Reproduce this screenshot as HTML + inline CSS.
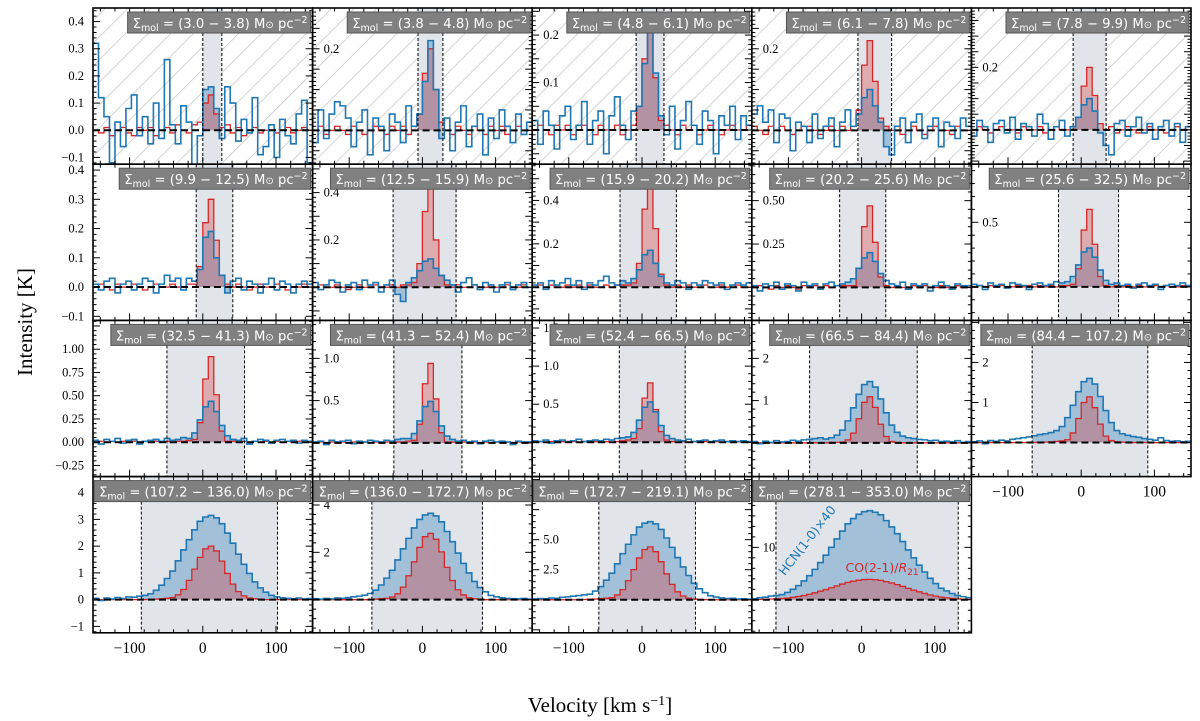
<!DOCTYPE html>
<html><head><meta charset="utf-8">
<style>
html,body{margin:0;padding:0;background:#fff;}
svg{display:block;}
</style></head>
<body>
<svg id="chart" width="1200" height="721" xmlns="http://www.w3.org/2000/svg">
<defs>
<pattern id="hatch" patternUnits="userSpaceOnUse" width="16" height="16" patternTransform="rotate(45)">
<line x1="0" y1="0" x2="0" y2="16" stroke="#c9c9c9" stroke-width="1.6"/>
</pattern>
</defs>
<text x="32" y="322" transform="rotate(-90 32 322)" text-anchor="middle" font-family="Liberation Serif, serif" font-size="21">Intensity [K]</text>
<text x="600" y="712" text-anchor="middle" font-family="Liberation Serif, serif" font-size="21">Velocity [km s<tspan baseline-shift="super" font-size="14">−1</tspan>]</text>
<g id="panels"></g>
</svg>
<script>
const titles=["(3.0 − 3.8)","(3.8 − 4.8)","(4.8 − 6.1)","(6.1 − 7.8)","(7.8 − 9.9)","(9.9 − 12.5)","(12.5 − 15.9)","(15.9 − 20.2)","(20.2 − 25.6)","(25.6 − 32.5)","(32.5 − 41.3)","(41.3 − 52.4)","(52.4 − 66.5)","(66.5 − 84.4)","(84.4 − 107.2)","(107.2 − 136.0)","(136.0 − 172.7)","(172.7 − 219.1)","(278.1 − 353.0)"];
const yMins=[-0.125,-0.083,-0.072,-0.083,-0.11,-0.114,-0.14,-0.153,-0.19,-0.26,-0.37,-0.4,-0.45,-0.8,-0.85,-1.24,-1.4,-2.75,-6.3];
const yMaxs=[0.45,0.3,0.257,0.3,0.39,0.42,0.52,0.567,0.71,0.95,1.31,1.45,1.6,2.9,3.05,4.6,5.2,10.25,23.5];
const yMajor=[0.1,0.05,0.05,0.05,0.05,0.1,0.1,0.1,0.25,0.5,0.25,0.5,0.5,1,1,1,2,2.5,10];
const yLabels=[[-0.1,0,0.1,0.2,0.3,0.4],[0.2],[0.1,0.2],[0.2],[0.2],[-0.1,0,0.1,0.2,0.3,0.4],[0.2,0.4],[0.2,0.4],[0.25,0.5],[0.5],[-0.25,0,0.25,0.5,0.75,1],[0.5,1],[0.5,1,1.5],[1,2],[1,2],[-1,0,1,2,3,4],[2,4],[2.5,5],[10]];
const yDecimals=[1,1,1,1,1,1,1,1,2,1,2,1,1,0,0,0,0,1,0];
const windowLo=[0,-6,-8,-5,-11,-9,-40,-30,-30,-31,-49,-39,-31,-71,-67,-84,-69,-59,-117];
const windowHi=[26,28,30,41,34,41,46,47,33,51,57,54,59,76,91,102,82,73,132];
const velocityEdges=[-150,150];
const binWidth=7.5;

const hcn1=[0.32,0.12,0.05,-0.12,0.03,-0.06,0.08,0.13,-0.02,0.05,-0.05,0.1,-0.03,0.26,0.02,-0.05,0.09,0.03,-0.13,-0.02,0.15,0.16,0.08,-0.03,0.16,0.1,-0.04,0.04,-0.01,0.12,-0.09,-0.06,0.02,-0.1,0.04,-0.02,-0.05,0.06,0.11,-0.12];
const co1=[0,-0.01,0.01,-0.02,0,0.01,-0.01,-0.02,0.01,0,0.01,-0.02,0,0.01,-0.01,0.02,0,-0.01,0.02,0.03,0.1,0.13,0.06,0.01,0.02,-0.01,0.01,-0.02,0,0.01,-0.01,0,0.02,-0.01,0,0.01,-0.01,0,0.01,0];
const hcn2=[-0.03,0.05,-0.02,0.04,0.07,0.06,0.03,-0.04,0.02,0.05,-0.06,0.03,0.01,-0.05,0.04,0.02,-0.03,0.06,0.01,0.04,0.12,0.22,0.1,-0.02,0.03,-0.05,0.02,0.06,-0.04,0.01,0.04,-0.06,0.03,-0.02,0.05,0.01,-0.03,0.04,-0.01,0.02];
const co2=[0,0.01,-0.01,0,0.01,0,-0.01,0.01,0,-0.01,0,0.01,0,-0.01,0.01,0,0.01,-0.01,0.01,0.04,0.14,0.2,0.1,0.02,0,-0.01,0.01,0,-0.01,0.01,0,-0.01,0.01,0,0.01,-0.01,0,0.01,0,0];
const hcn3=[0.02,-0.03,0.04,0.01,-0.04,0.03,0.05,-0.02,0.01,0.06,-0.03,0.02,0.04,-0.05,0.03,0.07,0.01,-0.02,0.04,0.05,0.14,0.21,0.12,0.03,-0.01,0.05,-0.04,0.02,0.06,0.01,-0.03,0.04,0.02,-0.05,0.03,0.01,0.05,-0.02,0.03,0.01];
const co3=[0,0.01,0,-0.01,0.01,0,0.01,-0.01,0,0.01,0,-0.01,0.01,0,0,0.01,-0.01,0,0.01,0.05,0.15,0.21,0.11,0.02,0.01,0,-0.01,0.01,0,0.01,-0.01,0,0.01,0,-0.01,0,0.01,0,0,0.01];
const hcn4=[0.04,0.06,0.02,0.05,-0.03,0.04,0.03,-0.05,0.02,0.01,-0.03,0.04,-0.02,0.01,0.03,-0.04,0.02,0.05,0.01,0.04,0.08,0.1,0.06,0.02,-0.04,-0.06,0.01,0.03,-0.03,0.02,0.04,-0.02,0.01,0.03,-0.04,0.02,0.01,-0.02,0.03,0.01];
const co4=[0.01,0,-0.01,0.01,0,0.01,0,-0.01,0,0.01,0.01,0,-0.01,0,0.01,0,0.01,0,0.01,0.05,0.16,0.22,0.12,0.03,0.01,0,0.01,-0.01,0,0.01,0,-0.01,0,0.01,0,0,-0.01,0.01,0,0];
const hcn5=[-0.02,0.03,0.01,-0.04,0.02,0.03,-0.01,0.04,-0.03,0.02,0.01,-0.02,0.05,0.02,-0.03,0.01,0.03,-0.02,0.01,0.04,0.08,0.1,0.06,-0.01,-0.05,-0.08,0.02,0.03,-0.02,0.01,0.04,-0.01,0.02,-0.03,0.01,0.03,-0.02,0.02,-0.04,0.01];
const co5=[0,0.01,0,-0.01,0,0.01,0,0,-0.01,0.01,0,0,0.01,-0.01,0,0.01,0,0,0.01,0.04,0.14,0.2,0.11,0.02,0,0.01,-0.01,0,0.01,0,-0.01,0,0.01,0,0,-0.01,0,0.01,0,0];
const hcn6=[0.01,-0.01,0.02,0.03,-0.02,0.01,0.02,-0.01,0.01,0.03,0.02,-0.02,0.01,0.04,0.02,0.03,-0.01,0.03,0.02,0.06,0.17,0.19,0.1,0.04,-0.02,0.02,0.03,-0.01,0.02,0.01,-0.02,0.01,0.03,-0.01,0.02,0.01,-0.02,0.01,0.02,0.01];
const co6=[0,0.01,0,-0.01,0.01,0,0,0.01,0,-0.01,0,0.01,0,0,0.01,0,0,0.01,0.01,0.07,0.22,0.3,0.16,0.04,0.01,0,0.01,0,-0.01,0,0.01,0,0,0.01,0,-0.01,0,0,0.01,0];
const hcn7=[0.02,-0.01,0.01,0.03,0.02,-0.02,0.01,0.02,-0.01,0.03,0.01,0.02,-0.02,0.01,0.03,-0.03,-0.06,0.02,0.04,0.07,0.11,0.12,0.08,0.05,0.03,0.01,-0.02,0.02,0.04,0.01,-0.01,0.02,0.01,-0.02,0.01,0.02,-0.01,0.01,0.02,0];
const co7=[0,0.01,0,0,0.01,0,-0.01,0,0.01,0,0,0.01,0,0,0.01,0,0.01,0.01,0.02,0.1,0.32,0.43,0.2,0.05,0.01,0,0.01,0,0,0.01,0,0,0.01,0,0,0.01,0,0,0.01,0];
const hcn8=[0.01,0.02,-0.01,0.03,0.01,0.02,0.04,0.01,0.03,-0.01,0.02,0.01,0.03,0.05,0.02,0.01,0.03,0.02,0.04,0.08,0.15,0.17,0.11,0.05,0.02,0.01,0.03,0.02,-0.01,0.02,0.01,0.03,0.02,0.01,0.02,-0.01,0.01,0.02,0.01,0.02];
const co8=[0,0.01,0,0.01,0,0,0.01,0,0.01,0,0.01,0,0,0.01,0,0.01,0.01,0.01,0.02,0.11,0.36,0.49,0.27,0.06,0.01,0,0.01,0,0.01,0,0,0.01,0,0,0.01,0,0,0.01,0,0];
const hcn9=[0.01,-0.02,0.02,0.01,0.03,-0.01,0.02,0.01,-0.02,0.03,0.01,0.02,-0.01,0.02,0.03,0.01,0.02,0.03,0.05,0.11,0.17,0.2,0.15,0.08,0.04,0.02,0.01,0.03,-0.01,0.02,0.01,0.02,-0.02,0.01,0.03,0.01,-0.01,0.02,0.01,0.01];
const co9=[0,0.01,0,-0.01,0.01,0,0.01,0,-0.01,0.01,0,0.01,0,0.01,0,0.01,0.01,0.01,0.01,0.11,0.35,0.47,0.26,0.06,0.01,0,0.01,0,-0.01,0.01,0,0.01,0,0,0.01,0,-0.01,0.01,0,0];
const hcn10=[0.02,0.01,-0.02,0.03,0.01,0.02,-0.01,0.03,0.02,0.01,-0.02,0.02,0.03,0.01,0.02,0.04,0.03,0.04,0.08,0.17,0.27,0.3,0.23,0.13,0.05,0.02,0.03,0.01,0.02,-0.01,0.02,0.03,0.01,0.02,-0.02,0.01,0.02,0.01,0.03,0.01];
const co10=[0,0.01,0,0.01,0,0.01,0,0,0.01,0,0.01,0,0.01,0,0.01,0,0.01,0.01,0.02,0.14,0.44,0.6,0.33,0.08,0.01,0,0.01,0,0.01,0,0.01,0,0,0.01,0,0.01,0,0,0.01,0];
const hcn11=[0.02,-0.02,0.03,0.01,0.04,-0.01,0.02,0.03,-0.02,0.01,0.02,0.03,0.01,0.04,0.02,0.03,0.05,0.04,0.1,0.24,0.38,0.44,0.33,0.18,0.07,0.03,0.02,0.04,-0.02,0.01,0.03,0.02,-0.01,0.02,0.03,0.01,0.02,-0.01,0.02,0.01];
const co11=[0,0.01,0,0.01,0,0.01,0,0.01,0,0.01,0,0.01,0,0.01,0,0.01,0.01,0.02,0.03,0.21,0.68,0.92,0.51,0.12,0.01,0.01,0,0.01,0,0.01,0,0.01,0,0.01,0,0.01,0,0.01,0,0];
const hcn12=[0.01,0.02,-0.02,0.03,0.01,0.02,0.03,-0.01,0.02,0.01,0.03,0.02,0.01,0.03,0.02,0.04,0.05,0.05,0.11,0.26,0.43,0.49,0.37,0.2,0.08,0.04,0.02,0.03,0.01,0.02,-0.01,0.02,0.03,0.01,0.02,0.01,-0.02,0.02,0.01,0.01];
const co12=[0,0.01,0,0.01,0,0.01,0,0.01,0,0.01,0,0.01,0,0.01,0,0.01,0.01,0.02,0.03,0.22,0.7,0.94,0.52,0.12,0.01,0.01,0,0.01,0,0.01,0,0.01,0,0.01,0,0.01,0,0.01,0,0];
const hcn13=[0.02,0.01,0.03,-0.01,0.02,0.03,0.01,0.02,0.04,0.01,0.02,0.03,0.02,0.04,0.03,0.05,0.06,0.07,0.13,0.29,0.46,0.53,0.4,0.22,0.09,0.05,0.03,0.02,0.04,0.01,0.02,0.03,0.01,0.02,0.03,0.01,0.02,0.01,0.02,0.01];
const co13=[0,0.01,0,0.01,0,0.01,0,0.01,0,0.01,0,0.01,0,0.01,0,0.01,0.02,0.03,0.05,0.18,0.58,0.78,0.43,0.14,0.03,0.01,0,0.01,0,0.01,0,0.01,0,0.01,0,0.01,0,0.01,0,0];
const hcn14=[0.03,-0.02,0.04,0.01,0.05,0.02,0.03,0.06,0.04,0.07,0.08,0.1,0.12,0.09,0.12,0.18,0.3,0.52,0.83,1.15,1.38,1.45,1.32,1.04,0.71,0.42,0.25,0.16,0.12,0.1,0.08,0.07,0.05,0.06,0.03,0.04,0.02,0.05,0.01,0.03];
const co14=[0,0,0,0,0,0,0,0,0,0,0,0,0,0,0.01,0.01,0.02,0.07,0.23,0.57,0.96,1.09,0.84,0.44,0.15,0.03,0.01,0,0,0,0,0,0,0,0,0,0,0,0,0];
const hcn15=[0.02,0.04,-0.03,0.05,0.03,0.06,0.04,0.08,0.1,0.12,0.14,0.17,0.2,0.22,0.25,0.3,0.4,0.62,0.93,1.27,1.52,1.6,1.46,1.15,0.8,0.5,0.3,0.22,0.18,0.15,0.13,0.1,0.08,0.06,0.12,0.05,0.03,0.04,0.02,0.03];
const co15=[0,0,0,0,0,0,0,0,0,0,0,0,0.01,0.01,0.02,0.03,0.04,0.07,0.24,0.6,1.0,1.14,0.87,0.46,0.16,0.05,0.02,0.01,0,0,0,0,0,0,0,0,0,0,0,0];
const hcn16=[0.05,-0.03,0.06,0.02,0.08,0.04,0.1,0.09,0.13,0.16,0.22,0.35,0.54,0.79,1.07,1.45,1.86,2.24,2.61,2.93,3.09,3.15,3.06,2.84,2.49,2.11,1.7,1.32,0.98,0.66,0.44,0.28,0.16,0.1,0.07,0.05,0.03,0.06,0.02,0.04];
const co16=[0,0,0,0,0,0,0,0,0,0,0.01,0.02,0.03,0.05,0.08,0.18,0.38,0.72,1.14,1.58,1.9,2.0,1.82,1.44,0.98,0.58,0.3,0.14,0.06,0.03,0.01,0,0,0,0,0,0,0,0,0];
const hcn17=[0.04,0.02,0.05,0.03,0.07,0.06,0.09,0.12,0.15,0.19,0.26,0.4,0.62,0.91,1.24,1.68,2.15,2.59,3.03,3.39,3.58,3.65,3.54,3.29,2.88,2.45,1.97,1.53,1.13,0.77,0.51,0.33,0.18,0.12,0.08,0.05,0.04,0.03,0.05,0.02];
const co17=[0,0,0,0,0,0,0,0,0,0,0.01,0.02,0.04,0.06,0.11,0.25,0.53,1.01,1.6,2.21,2.66,2.8,2.55,2.02,1.37,0.81,0.42,0.2,0.08,0.04,0.02,0,0,0,0,0,0,0,0,0];
const hcn18=[0.06,0.1,0.08,0.14,0.12,0.2,0.24,0.3,0.35,0.4,0.46,0.72,1.1,1.63,2.21,2.99,3.84,4.62,5.4,6.05,6.37,6.5,6.31,5.85,5.14,4.36,3.51,2.73,2.02,1.37,0.91,0.59,0.33,0.22,0.15,0.1,0.12,0.06,0.08,0.05];
const co18=[0,0,0,0,0,0,0,0,0.01,0.02,0.04,0.06,0.09,0.13,0.18,0.4,0.84,1.58,2.51,3.48,4.18,4.4,4.0,3.17,2.16,1.28,0.66,0.31,0.13,0.06,0.03,0.01,0,0,0,0,0,0,0,0];
const hcn19=[0.2,0.4,0.5,0.7,0.8,1.0,1.4,2.0,2.7,3.6,4.6,5.8,7.1,8.5,10.0,11.6,13.1,14.5,15.5,16.3,16.8,17.0,16.7,16.2,15.1,13.9,12.6,11.1,9.5,8.0,6.6,5.3,4.1,3.1,2.2,1.7,1.2,0.8,0.6,0.4];
const co19=[0.05,0.08,0.1,0.15,0.18,0.23,0.31,0.47,0.62,0.82,1.05,1.33,1.64,1.95,2.3,2.65,3.0,3.32,3.55,3.74,3.86,3.9,3.82,3.7,3.47,3.2,2.89,2.54,2.18,1.83,1.52,1.21,0.94,0.7,0.51,0.39,0.27,0.18,0.12,0.08];

const hcnSeries=[hcn1,hcn2,hcn3,hcn4,hcn5,hcn6,hcn7,hcn8,hcn9,hcn10,hcn11,hcn12,hcn13,hcn14,hcn15,hcn16,hcn17,hcn18,hcn19];
const coSeries=[co1,co2,co3,co4,co5,co6,co7,co8,co9,co10,co11,co12,co13,co14,co15,co16,co17,co18,co19];

const NS="http://www.w3.org/2000/svg";
const root=document.getElementById('panels');
const PX0=93, PW=219.6, PY0=8, PH=156.2;
function mk(tag,attrs,parent){const e=document.createElementNS(NS,tag);for(const k in attrs)e.setAttribute(k,attrs[k]);(parent||root).appendChild(e);return e;}
function fmt(v,d){let s=Math.abs(v).toFixed(d);return (v<0?"−":"")+s;}

for(let p=0;p<19;p++){
  const col=p%5,row=Math.floor(p/5);
  const x0=PX0+col*PW, y0=PY0+row*PH, x1=x0+PW, y1=y0+PH;
  const ymin=yMins[p], ymax=yMaxs[p];
  const xs=v=>x0+(v-velocityEdges[0])/(velocityEdges[1]-velocityEdges[0])*PW;
  const ys=y=>y0+(ymax-y)/(ymax-ymin)*PH;
  const g=mk('g',{});
  
  
  const cid='clip'+p;
  const cp=mk('clipPath',{id:cid},g);
  mk('rect',{x:x0,y:y0,width:PW,height:PH},cp);
  const wid='win'+p;
  const wp=mk('clipPath',{id:wid},g);
  const wl=xs(windowLo[p]), wh=xs(windowHi[p]);
  mk('rect',{x:wl,y:y0,width:wh-wl,height:PH},wp);
  const inner=mk('g',{'clip-path':'url(#'+cid+')'},g);
  if(row===0){
    const h=mk('rect',{x:x0,y:y0,width:PW,height:PH,fill:'url(#hatch)'},inner);
    
    
  }
  const sh=mk('rect',{x:wl,y:y0,width:wh-wl,height:PH,fill:'#e1e5ea'},inner);
  
  
  function stepPath(vals){
    let d='';
    for(let i=0;i<vals.length;i++){
      const a=xs(velocityEdges[0]+i*binWidth), b=xs(velocityEdges[0]+(i+1)*binWidth), y=ys(vals[i]);
      d+=(i===0?'M':'L')+a.toFixed(2)+','+y.toFixed(2)+'L'+b.toFixed(2)+','+y.toFixed(2);
    }
    return d;
  }
  const y0v=ys(0).toFixed(2);
  const hp=stepPath(hcnSeries[p]), cpth=stepPath(coSeries[p]);
  const fillEnd='L'+xs(velocityEdges[1]).toFixed(2)+','+y0v+'L'+xs(velocityEdges[0]).toFixed(2)+','+y0v+'Z';
  const wg=mk('g',{'clip-path':'url(#'+wid+')'},inner);
  const hf=mk('path',{d:hp+fillEnd,fill:'rgba(31,119,180,0.32)'},wg);
  
  
  const cf=mk('path',{d:cpth+fillEnd,fill:'rgba(214,39,40,0.3)'},wg);
  
  
  const cl=mk('path',{d:cpth,fill:'none',stroke:'#d62728','stroke-width':1.3},inner);
  
  
  const hl=mk('path',{d:hp,fill:'none',stroke:'#1f77b4','stroke-width':1.6},inner);
  
  
  const zl=mk('line',{x1:x0,x2:x1,y1:y0v,y2:y0v,stroke:'#000','stroke-width':2,'stroke-dasharray':'7,4'},inner);
  
  
  [wl,wh].forEach(xx=>{
    const vl=mk('line',{x1:xx,x2:xx,y1:y0,y2:y1,stroke:'#000','stroke-width':1,'stroke-dasharray':'3,2'},inner);
    
    
  });
  // ticks
  const tk=mk('g',{stroke:'#000','stroke-width':1},g);
  for(let v=-140;v<=140;v+=20){
    const major=(v%100===0), L=major?7:3.5, xx=xs(v);
    mk('line',{x1:xx,x2:xx,y1:y1,y2:y1-L},tk);
    mk('line',{x1:xx,x2:xx,y1:y0,y2:y0+L},tk);
  }
  const mj=yMajor[p], mn=mj/5;
  const kStart=Math.ceil(ymin/mn-1e-6), kEnd=Math.floor(ymax/mn+1e-6);
  for(let k=kStart;k<=kEnd;k++){
    const v=k*mn, major=Math.abs(k%5)===0, L=major?7:3.5, yy=ys(v);
    mk('line',{x1:x0,x2:x0+L,y1:yy,y2:yy},tk);
    mk('line',{x1:x1,x2:x1-L,y1:yy,y2:yy},tk);
  }
  yLabels[p].forEach(v=>{
    const t=mk('text',{y:ys(v)+4,'font-family':'Liberation Serif, serif','font-size':12.5},g);
    if(col===0){t.setAttribute('x',x0-9);t.setAttribute('text-anchor','end');}
    else{t.setAttribute('x',x0+11);}
    t.textContent=fmt(v,yDecimals[p]);
    
    
  });
  if(row===3||p===14){
    [-100,0,100].forEach(v=>{
      const t=mk('text',{x:xs(v),y:y1+20,'text-anchor':'middle','font-family':'Liberation Serif, serif','font-size':15.5},g);
      t.textContent=fmt(v,0);
      
      
    });
  }
  const fr=mk('rect',{x:x0,y:y0,width:PW,height:PH,fill:'none',stroke:'#000','stroke-width':1.6},g);
  
  
  // title box
  const tb=mk('g',{},g);
  
  
  const br=mk('rect',{y:y0+4,height:21,fill:'#808080',stroke:'#555','stroke-width':1},tb);
  const tt=mk('text',{y:y0+20,'font-family':'DejaVu Sans, Liberation Sans, sans-serif','font-size':13.2,fill:'#fff','text-anchor':'end',x:x1-5},tb);
  tt.innerHTML='Σ<tspan font-size="9.5" dy="3">mol</tspan><tspan dy="-3"> = '+titles[p]+' M</tspan><tspan font-size="10">⊙</tspan> pc<tspan font-size="9.5" dy="-5">−2</tspan>';
  const w=tt.getComputedTextLength();
  br.setAttribute('x',x1-w-10);br.setAttribute('width',w+8);
  if(p===18){
    const l1=mk('text',{x:xs(-105),y:ys(4.5),transform:'rotate(-52 '+xs(-105)+' '+ys(4.5)+')','font-family':'DejaVu Sans, Liberation Sans, sans-serif','font-size':12.5,fill:'#1f77b4'},g);
    l1.textContent='HCN(1-0)×40';
    
    
    const l2=mk('text',{x:xs(-22),y:ys(5.3),'font-family':'DejaVu Sans, Liberation Sans, sans-serif','font-size':12.5,fill:'#d62728'},g);
    l2.innerHTML='CO(2-1)/<tspan font-style="italic">R</tspan><tspan font-size="9" dy="3">21</tspan>';
    
    
  }
}
</script>
</body></html>
